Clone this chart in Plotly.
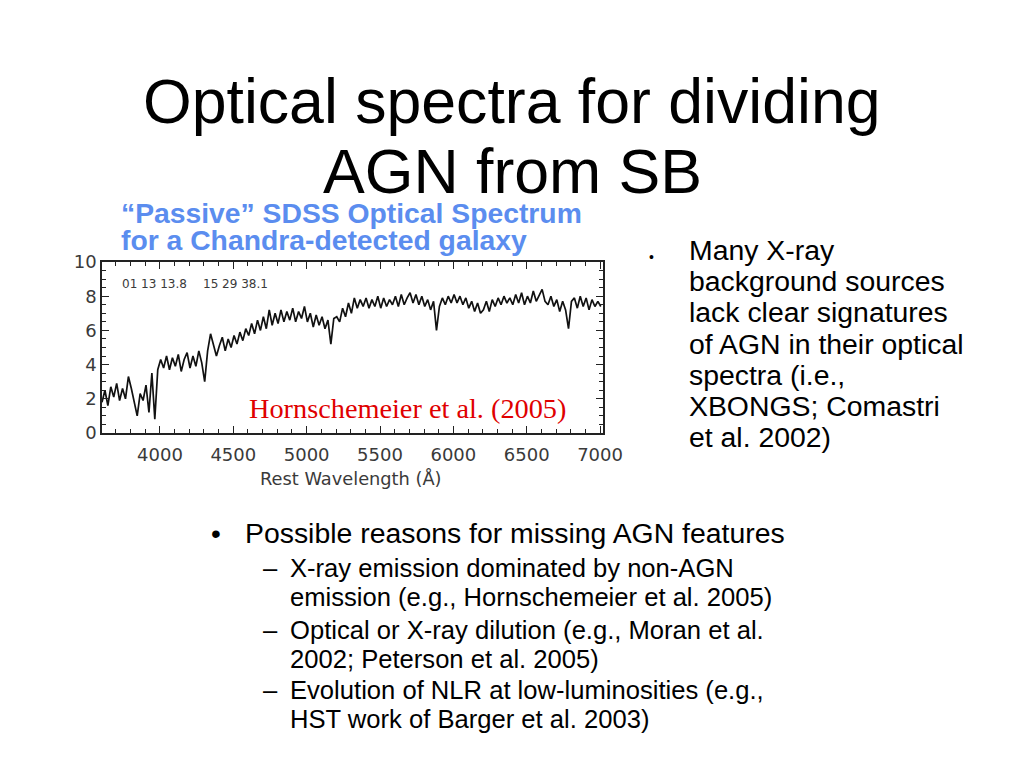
import plotly.graph_objects as go

# ---------------- data ----------------
wavelength = [
    3605, 3625, 3645, 3665, 3685, 3705, 3725, 3745, 3765, 3785,
    3805, 3825, 3845, 3865, 3885, 3905, 3925, 3945, 3965, 3985,
    4005, 4025, 4045, 4065, 4085, 4105, 4125, 4145, 4165, 4185,
    4205, 4225, 4245, 4265, 4285, 4305, 4325, 4345, 4365, 4385,
    4405, 4425, 4445, 4465, 4485, 4505, 4525, 4545, 4565, 4585,
    4605, 4625, 4645, 4665, 4685, 4705, 4725, 4745, 4765, 4785,
    4805, 4825, 4845, 4865, 4885, 4905, 4925, 4945, 4965, 4985,
    5005, 5025, 5045, 5065, 5085, 5105, 5125, 5145, 5165, 5185,
    5205, 5225, 5245, 5265, 5285, 5305, 5325, 5345, 5365, 5385,
    5405, 5425, 5445, 5465, 5485, 5505, 5525, 5545, 5565, 5585,
    5605, 5625, 5645, 5665, 5685, 5705, 5725, 5745, 5765, 5785,
    5805, 5825, 5845, 5865, 5885, 5905, 5925, 5945, 5965, 5985,
    6005, 6025, 6045, 6065, 6085, 6105, 6125, 6145, 6165, 6185,
    6205, 6225, 6245, 6265, 6285, 6305, 6325, 6345, 6365, 6385,
    6405, 6425, 6445, 6465, 6485, 6505, 6525, 6545, 6565, 6585,
    6605, 6625, 6645, 6665, 6685, 6705, 6725, 6745, 6765, 6785,
    6805, 6825, 6845, 6865, 6885, 6905, 6925, 6945, 6965, 6985,
    7005,
]
flux = [
    1.8, 2.5, 1.6, 2.7, 2.1, 2.9, 1.9, 2.6, 2.0, 3.3,
    2.6, 1.8, 1.0, 2.3, 1.9, 2.8, 1.2, 3.5, 0.8, 3.7,
    4.3, 3.8, 4.5, 3.7, 4.4, 3.9, 4.6, 3.6, 4.3, 4.7,
    3.8, 4.5, 3.9, 4.8, 4.1, 3.0, 4.8, 5.8, 5.1, 4.5,
    5.1, 5.6, 4.8, 5.5, 5.0, 5.7, 5.2, 5.9, 5.4, 6.1,
    5.7, 6.4, 5.8, 6.6, 6.0, 6.8, 6.1, 7.2, 6.3, 7.0,
    6.4, 7.2, 6.5, 7.1, 6.6, 7.3, 6.5, 7.1, 6.7, 7.4,
    6.5, 7.0, 6.2, 6.9, 6.3, 6.8, 6.1, 6.6, 5.2, 6.7,
    6.8, 6.5, 7.3, 6.8, 7.6, 7.0, 7.9, 7.3, 7.8, 7.4,
    7.9, 7.3, 7.8, 7.4, 8.0, 7.3, 7.9, 7.4, 7.8, 7.5,
    8.0, 7.4, 8.1, 7.5, 7.9, 8.2, 7.6, 8.1, 7.5, 8.0,
    7.4, 7.8, 7.2, 7.7, 6.0, 7.4, 7.9, 7.5, 8.0, 7.6,
    8.1, 7.6, 8.0, 7.5, 7.9, 7.3, 7.7, 7.1, 7.6, 7.0,
    7.2, 7.7, 7.1, 7.8, 7.4, 7.9, 7.5, 8.0, 7.6, 7.9,
    7.5, 8.1, 7.6, 8.2, 7.5, 8.0, 7.6, 8.3, 7.7, 8.1,
    8.4, 7.7, 7.5, 8.0, 7.4, 7.8, 7.1, 7.7, 7.2, 6.1,
    7.7, 7.9, 7.3, 8.0, 7.4, 7.9, 7.2, 7.8, 7.4, 7.7,
    7.4,
]
x_ticks = [4000, 4500, 5000, 5500, 6000, 6500, 7000]
y_ticks = [0, 2, 4, 6, 8, 10]

title_lines = ["Optical spectra for dividing", "AGN from SB"]
blue_lines = ["\u201cPassive\u201d SDSS Optical Spectrum", "for a Chandra-detected galaxy"]
right_lines = ["Many X-ray", "background sources", "lack clear signatures",
               "of AGN in their optical", "spectra (i.e.,", "XBONGS; Comastri",
               "et al. 2002)"]
main_bullet = "Possible reasons for missing AGN features"
sub_bullets = [
    ["X-ray emission dominated by non-AGN", "emission (e.g., Hornschemeier et al. 2005)"],
    ["Optical or X-ray dilution (e.g., Moran et al.", "2002; Peterson et al. 2005)"],
    ["Evolution of NLR at low-luminosities (e.g.,", "HST work of Barger et al. 2003)"],
]
citation = "Hornschemeier et al. (2005)"
coord_label = ["01 13 13.8", "15 29 38.1"]
x_title = "Rest Wavelength (\u00c5)"

# ---------------- layout helpers ----------------
W, H = 1024, 768
def px(x):
    return x / W
def py(y):
    return 1 - y / H

SANS = "Liberation Sans, Arial, Helvetica, sans-serif"
AXFONT = "DejaVu Sans, sans-serif"
AXCOL = "#3a3a3a"

fig = go.Figure()
fig.add_trace(go.Scatter(x=wavelength, y=flux, mode="lines",
                         line=dict(color="#111111", width=1.7),
                         showlegend=False, hoverinfo="skip"))

axis_common = dict(
    showline=True, linecolor="#222222", linewidth=1.5, mirror="allticks",
    ticks="inside", ticklen=7, tickwidth=1.2, tickcolor="#222222",
    showgrid=False, zeroline=False, automargin=False,
    tickfont=dict(family=AXFONT, size=18, color=AXCOL),
)
fig.update_layout(
    width=W, height=H, autosize=False,
    margin=dict(l=0, r=0, t=0, b=0, pad=0, autoexpand=False),
    paper_bgcolor="white", plot_bgcolor="white",
    xaxis=dict(axis_common, range=[3605, 7020], domain=[px(102), px(603)],
               tickvals=x_ticks, ticklabelstandoff=5,
               minor=dict(dtick=100, ticks="inside", ticklen=4, tickcolor="#222222", tickwidth=1)),
    yaxis=dict(axis_common, range=[0, 10], domain=[py(433), py(262)],
               tickvals=y_ticks, ticklabelstandoff=0,
               minor=dict(dtick=0.5, ticks="inside", ticklen=4, tickcolor="#222222", tickwidth=1)),
)

ann = []
def text(x, y, s, size, color="black", family=SANS, xanchor="left", bold=False):
    if bold:
        s = "<b>" + s + "</b>"
    ann.append(dict(x=px(x), y=py(y), xref="paper", yref="paper", text=s,
                    showarrow=False, xanchor=xanchor, yanchor="middle",
                    font=dict(family=family, size=size, color=color)))

# title
text(512, 101, title_lines[0], 62.6, xanchor="center")
text(512, 171, title_lines[1], 62.6, xanchor="center")
# blue caption
text(119, 213, blue_lines[0], 28.3, color="#5b8def", bold=True)
text(119, 240, blue_lines[1], 28.3, color="#5b8def", bold=True)
# right bullet
text(647, 257, "\u2022", 14)
for i, line in enumerate(right_lines):
    text(687, 250 + i * 31.2, line, 28.4)
# bottom bullets
text(209, 533, "\u2022", 28)
text(243, 533, main_bullet, 28.4)
sub_y = [568, 630, 690]
for y0, lines in zip(sub_y, sub_bullets):
    text(261, y0, "\u2013", 25.6)
    text(288, y0, lines[0], 25.6)
    text(288, y0 + 29, lines[1], 25.6)
# spectrum annotations
text(247, 408, citation, 28.3, color="#e00000", family="Liberation Serif, Times New Roman, serif")
text(120, 284, coord_label[0], 12, color=AXCOL, family=AXFONT)
text(201, 284, coord_label[1], 12, color=AXCOL, family=AXFONT)
text(351, 478, x_title, 17.8, color=AXCOL, family=AXFONT, xanchor="center")

fig.update_layout(annotations=ann)
post = ("document.body.style.margin='0';document.body.style.overflow='hidden';"
        "var gd=document.getElementById('{plot_id}');"
        "Plotly.relayout(gd,{width:1024,height:768});")
fig.write_html("out.html", config={"displayModeBar": False, "responsive": False},
               post_script=post)
